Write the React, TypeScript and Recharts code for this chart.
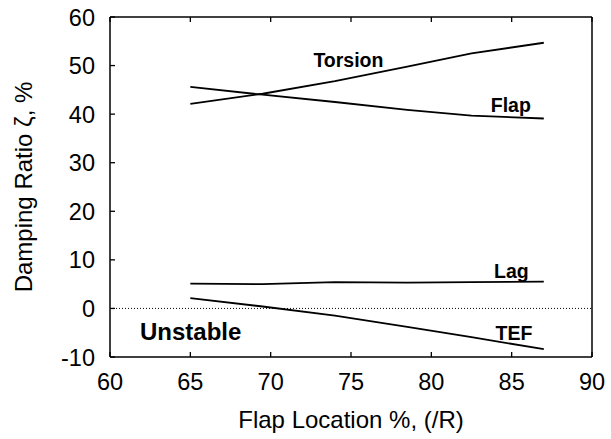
import React from 'react';
import { LineChart, Line, XAxis, YAxis, ReferenceLine, ReferenceDot } from 'recharts';

const flapLocation = [65, 69.5, 74, 78.5, 82.5, 87];
const torsion = [42.1, 44.2, 46.8, 49.8, 52.5, 54.7];
const flap = [45.6, 44.0, 42.5, 40.9, 39.7, 39.1];
const lag = [5.1, 5.0, 5.4, 5.3, 5.4, 5.5];
const tef = [2.1, 0.4, -1.5, -3.8, -5.9, -8.4];

const xTicks = [60, 65, 70, 75, 80, 85, 90];
const yTicks = [-10, 0, 10, 20, 30, 40, 50, 60];

const labelNames = ['Torsion', 'Flap', 'Lag', 'Unstable', 'TEF'];
const labelX = [72.66, 83.7, 83.9, 61.87, 84.0];
const labelY = [49.76, 40.4, 6.26, -6.5, -6.5];
const labelSize = [19.5, 19.5, 19.5, 24, 19.5];

const data = flapLocation.map((x, i) => ({
  x,
  torsion: torsion[i],
  flap: flap[i],
  lag: lag[i],
  tef: tef[i],
}));

const FONT = '"Liberation Sans", Arial, sans-serif';
const TICK = 5;

const BottomTick = (p: any) => (
  <g>
    <line x1={p.x} x2={p.x} y1={p.y} y2={p.y - TICK} stroke="#000" strokeWidth={1.3} />
    <text x={p.x} y={p.y + 33} textAnchor="middle" fontFamily={FONT} fontSize={23.5} fill="#000">
      {p.payload.value}
    </text>
  </g>
);
const TopTick = (p: any) => (
  <line x1={p.x} x2={p.x} y1={p.y} y2={p.y + TICK} stroke="#000" strokeWidth={1.3} />
);
const LeftTick = (p: any) => (
  <g>
    <line x1={p.x} x2={p.x + TICK} y1={p.y} y2={p.y} stroke="#000" strokeWidth={1.3} />
    <text x={p.x - 15} y={p.y + 8.5} textAnchor="end" fontFamily={FONT} fontSize={23.5} fill="#000">
      {p.payload.value}
    </text>
  </g>
);
const RightTick = (p: any) => (
  <line x1={p.x} x2={p.x - TICK} y1={p.y} y2={p.y} stroke="#000" strokeWidth={1.3} />
);

const makeLabel = (name: string, size: number) => (p: any) => (
  <text x={p.cx} y={p.cy} fontFamily={FONT} fontSize={size} fontWeight="bold" fill="#000">
    {name}
  </text>
);

export default function App() {
  return (
    <div style={{ position: 'fixed', left: 0, top: 0, background: '#fff' }}>
      <LineChart width={611} height={439} data={data} margin={{ top: 0, right: 0, bottom: 0, left: 0 }}>
        <XAxis
          xAxisId="b"
          dataKey="x"
          type="number"
          domain={[60, 90]}
          ticks={xTicks}
          orientation="bottom"
          height={82}
          tickSize={0}
          tickMargin={0}
          tick={BottomTick}
          axisLine={{ stroke: '#000', strokeWidth: 1.5 }}
          label={{
            content: (props: any) => (
              <text x={351} y={428} textAnchor="middle" fontFamily={FONT} fontSize={24} fill="#000">
                Flap Location %, (/R)
              </text>
            ),
          }}
        />
        <XAxis
          xAxisId="t"
          dataKey="x"
          type="number"
          domain={[60, 90]}
          ticks={xTicks}
          orientation="top"
          height={17}
          tickSize={0}
          tickMargin={0}
          tick={TopTick}
          axisLine={{ stroke: '#000', strokeWidth: 1.5 }}
        />
        <YAxis
          yAxisId="l"
          type="number"
          domain={[-10, 60]}
          ticks={yTicks}
          orientation="left"
          width={110}
          tickSize={0}
          tickMargin={0}
          tick={LeftTick}
          axisLine={{ stroke: '#000', strokeWidth: 1.5 }}
          label={{
            content: (props: any) => (
              <text
                x={32}
                y={187}
                transform="rotate(-90, 32, 187)"
                textAnchor="middle"
                fontFamily={FONT}
                fontSize={24}
                fill="#000"
              >
                Damping Ratio ζ, %
              </text>
            ),
          }}
        />
        <YAxis
          yAxisId="r"
          type="number"
          domain={[-10, 60]}
          ticks={yTicks}
          orientation="right"
          width={19}
          tickSize={0}
          tickMargin={0}
          tick={RightTick}
          axisLine={{ stroke: '#000', strokeWidth: 1.5 }}
        />
        <ReferenceLine xAxisId="b" yAxisId="l" y={0} stroke="#000" strokeWidth={1} strokeDasharray="1 2" />
        <Line xAxisId="b" yAxisId="l" dataKey="torsion" stroke="#000" strokeWidth={1.8} dot={false} isAnimationActive={false} />
        <Line xAxisId="b" yAxisId="l" dataKey="flap" stroke="#000" strokeWidth={1.8} dot={false} isAnimationActive={false} />
        <Line xAxisId="b" yAxisId="l" dataKey="lag" stroke="#000" strokeWidth={1.8} dot={false} isAnimationActive={false} />
        <Line xAxisId="b" yAxisId="l" dataKey="tef" stroke="#000" strokeWidth={1.8} dot={false} isAnimationActive={false} />
        {labelNames.map((n, i) => (
          <ReferenceDot
            key={n}
            xAxisId="b"
            yAxisId="l"
            x={labelX[i]}
            y={labelY[i]}
            r={0}
            shape={makeLabel(n, labelSize[i])}
          />
        ))}
      </LineChart>
    </div>
  );
}
